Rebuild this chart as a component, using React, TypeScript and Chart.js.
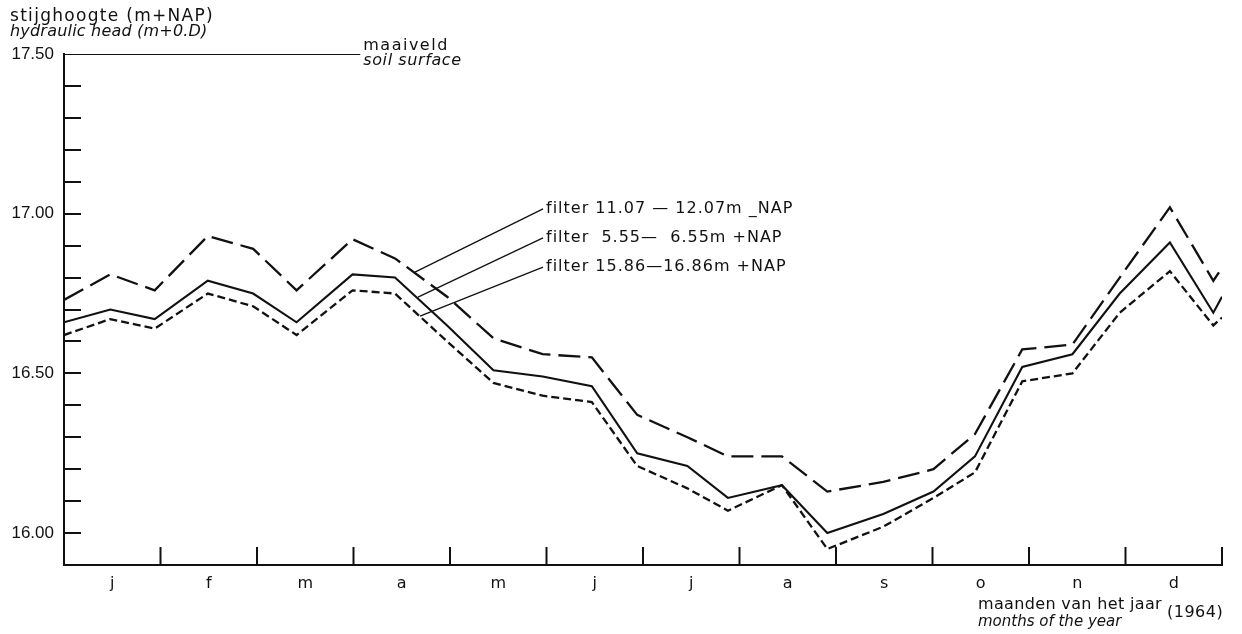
import React, { useEffect, useRef } from "react";
import { Chart, registerables } from "chart.js";

Chart.register(...registerables);

// ---- data -------------------------------------------------------------
const monthLabels = ["j", "f", "m", "a", "m", "j", "j", "a", "s", "o", "n", "d"];
const monthBoundaries = [1, 2, 3, 4, 5, 6, 7, 8, 9, 10, 11, 12];
const yLabelTicks = [16.0, 16.5, 17.0, 17.5];
const yMinorTicks = [16.0, 16.1, 16.2, 16.3, 16.4, 16.5, 16.6, 16.7, 16.8, 16.9, 17.0, 17.1, 17.2, 17.3, 17.4];

// measurement dates, in months from 1 January 1964
const measurementMonths = [
  0, 0.48, 0.94, 1.49, 1.96, 2.41, 2.99, 3.43, 3.97, 4.45, 4.96, 5.47, 5.94,
  6.46, 6.88, 7.44, 7.91, 8.49, 9.01, 9.44, 9.93, 10.45, 10.94, 11.46, 11.91, 12.0,
];

// filter 11.07 - 12.07 m -NAP (long dashes)
const filterDeep = [
  16.73, 16.81, 16.76, 16.93, 16.89, 16.76, 16.92, 16.86, 16.74, 16.61, 16.56, 16.55, 16.37,
  16.30, 16.24, 16.24, 16.13, 16.16, 16.20, 16.31, 16.575, 16.59, 16.80, 17.02, 16.79, 16.83,
];
// filter 5.55 - 6.55 m +NAP (solid)
const filterMiddle = [
  16.66, 16.70, 16.67, 16.79, 16.75, 16.66, 16.81, 16.80, 16.65, 16.51, 16.49, 16.46, 16.25,
  16.21, 16.11, 16.15, 16.0, 16.06, 16.13, 16.24, 16.52, 16.56, 16.75, 16.91, 16.69, 16.74,
];
// filter 15.86 - 16.86 m +NAP (short dashes)
const filterShallow = [
  16.62, 16.67, 16.64, 16.75, 16.71, 16.62, 16.76, 16.75, 16.60, 16.47, 16.43, 16.41, 16.21,
  16.14, 16.07, 16.15, 15.95, 16.02, 16.11, 16.19, 16.475, 16.50, 16.69, 16.82, 16.65, 16.675,
];

const soilSurfaceLevel = 17.5;
const soilSurfaceEndMonth = 3.07;

const seriesLabels = [
  "filter 11.07 \u2014 12.07m _NAP",
  "filter  5.55\u2014  6.55m +NAP",
  "filter 15.86\u201416.86m +NAP",
];

// ---- styling / layout ---------------------------------------------------
const INK = "#111111";
const SANS = "'DejaVu Sans', 'Liberation Sans', sans-serif";
const NUM = "'Liberation Sans', 'DejaVu Sans', sans-serif";

// leader lines: [label month, label value, end month, end value]
const leaderGeometry = [
  [4.964, 17.015, 3.637, 16.817],
  [4.964, 16.924, 3.668, 16.739],
  [4.964, 16.833, 3.689, 16.679],
];

function text(ctx: any, s: string, x: number, y: number, font: string, spacing: string) {
  ctx.font = font;
  ctx.letterSpacing = spacing;
  ctx.fillText(s, x, y);
}

const decorPlugin = {
  id: "decor",
  afterDatasetsDraw(chart: any) {
    const { ctx, scales } = chart;
    const xs = scales.x;
    const ys = scales.y;
    ctx.save();
    ctx.strokeStyle = INK;
    ctx.fillStyle = INK;
    ctx.lineCap = "butt";

    // inward ticks on the y axis
    ctx.lineWidth = 2;
    yMinorTicks.forEach((v) => {
      const py = Math.round(ys.getPixelForValue(v));
      ctx.beginPath();
      ctx.moveTo(xs.left, py);
      ctx.lineTo(xs.left + 17, py);
      ctx.stroke();
    });
    // upward ticks on the x axis
    monthBoundaries.forEach((m) => {
      const px = xs.getPixelForValue(m);
      ctx.beginPath();
      ctx.moveTo(px, ys.bottom);
      ctx.lineTo(px, ys.bottom - 18);
      ctx.stroke();
    });

    // leader lines + labels
    ctx.lineWidth = 1.3;
    ctx.textBaseline = "middle";
    ctx.textAlign = "left";
    leaderGeometry.forEach((g, i) => {
      const x0 = xs.getPixelForValue(g[0]);
      const y0 = ys.getPixelForValue(g[1]);
      const x1 = xs.getPixelForValue(g[2]);
      const y1 = ys.getPixelForValue(g[3]);
      ctx.beginPath();
      ctx.moveTo(x0, y0);
      ctx.lineTo(x1, y1);
      ctx.stroke();
      text(ctx, seriesLabels[i], x0 + 3, y0, `16px ${SANS}`, "1px");
    });

    // soil surface label
    const sx = xs.getPixelForValue(soilSurfaceEndMonth) + 3;
    const sy = ys.getPixelForValue(soilSurfaceLevel);
    text(ctx, "maaiveld", sx, sy - 8, `16px ${SANS}`, "1.5px");
    text(ctx, "soil surface", sx, sy + 7, `italic 16px ${SANS}`, "0.6px");

    // axis titles
    text(ctx, "stijghoogte (m+NAP)", 10, 17, `17px ${SANS}`, "1.3px");
    text(ctx, "hydraulic head (m+0.D)", 10, 32, `italic 16px ${SANS}`, "0.2px");

    text(ctx, "maanden van het jaar", 978, 605, `16px ${SANS}`, "0.35px");
    text(ctx, "months of the year", 978, 622, `italic 15px ${SANS}`, "0px");
    text(ctx, "(1964)", 1167, 613, `16px ${SANS}`, "0.5px");

    ctx.restore();
  },
};

function toPoints(values: number[]) {
  return values.map((v, i) => ({ x: measurementMonths[i], y: v }));
}

export default function App() {
  const canvasRef = useRef<HTMLCanvasElement | null>(null);

  useEffect(() => {
    const canvas = canvasRef.current;
    if (!canvas) return;
    const chart = new Chart(canvas, {
      type: "line",
      data: {
        datasets: [
          {
            label: seriesLabels[0],
            data: toPoints(filterDeep),
            borderColor: INK,
            borderWidth: 2.3,
            borderDash: [22, 8],
            pointRadius: 0,
            tension: 0,
            fill: false,
          },
          {
            label: seriesLabels[1],
            data: toPoints(filterMiddle),
            borderColor: INK,
            borderWidth: 2.1,
            pointRadius: 0,
            tension: 0,
            fill: false,
          },
          {
            label: seriesLabels[2],
            data: toPoints(filterShallow),
            borderColor: INK,
            borderWidth: 2.3,
            borderDash: [8, 4],
            pointRadius: 0,
            tension: 0,
            fill: false,
          },
          {
            label: "maaiveld",
            data: [
              { x: 0, y: soilSurfaceLevel },
              { x: soilSurfaceEndMonth, y: soilSurfaceLevel },
            ],
            borderColor: INK,
            borderWidth: 2,
            pointRadius: 0,
            fill: false,
          },
        ],
      },
      options: {
        responsive: false,
        animation: false,
        devicePixelRatio: 1,
        layout: { padding: { left: 0, right: 20, top: 54, bottom: 0 } },
        plugins: {
          legend: { display: false },
          tooltip: { enabled: false },
          title: { display: false },
        },
        scales: {
          x: {
            type: "linear",
            min: 0,
            max: 12,
            grid: { display: false, drawTicks: false },
            border: { display: true, color: INK, width: 2 },
            afterBuildTicks: (scale: any) => {
              scale.ticks = monthLabels.map((_, i) => ({ value: i + 0.5 }));
            },
            afterFit: (scale: any) => {
              scale.height = 69;
            },
            ticks: {
              autoSkip: false,
              maxRotation: 0,
              padding: 9,
              color: INK,
              font: { family: SANS, size: 16 },
              callback: (value: any) => monthLabels[Math.floor(Number(value))] ?? "",
            },
          },
          y: {
            type: "linear",
            min: 15.9,
            max: 17.5,
            grid: { display: false, drawTicks: false },
            border: { display: true, color: INK, width: 2 },
            afterBuildTicks: (scale: any) => {
              scale.ticks = yLabelTicks.map((v) => ({ value: v }));
            },
            afterFit: (scale: any) => {
              scale.width = 64;
            },
            ticks: {
              padding: 10,
              color: INK,
              font: { family: NUM, size: 17 },
              callback: (value: any) => Number(value).toFixed(2),
            },
          },
        },
      },
      plugins: [decorPlugin],
    });
    return () => chart.destroy();
  }, []);

  return (
    <div style={{ position: "absolute", left: 0, top: 0, width: 1242, height: 634, background: "#fff" }}>
      <canvas ref={canvasRef} width={1242} height={634} style={{ display: "block" }} />
    </div>
  );
}
